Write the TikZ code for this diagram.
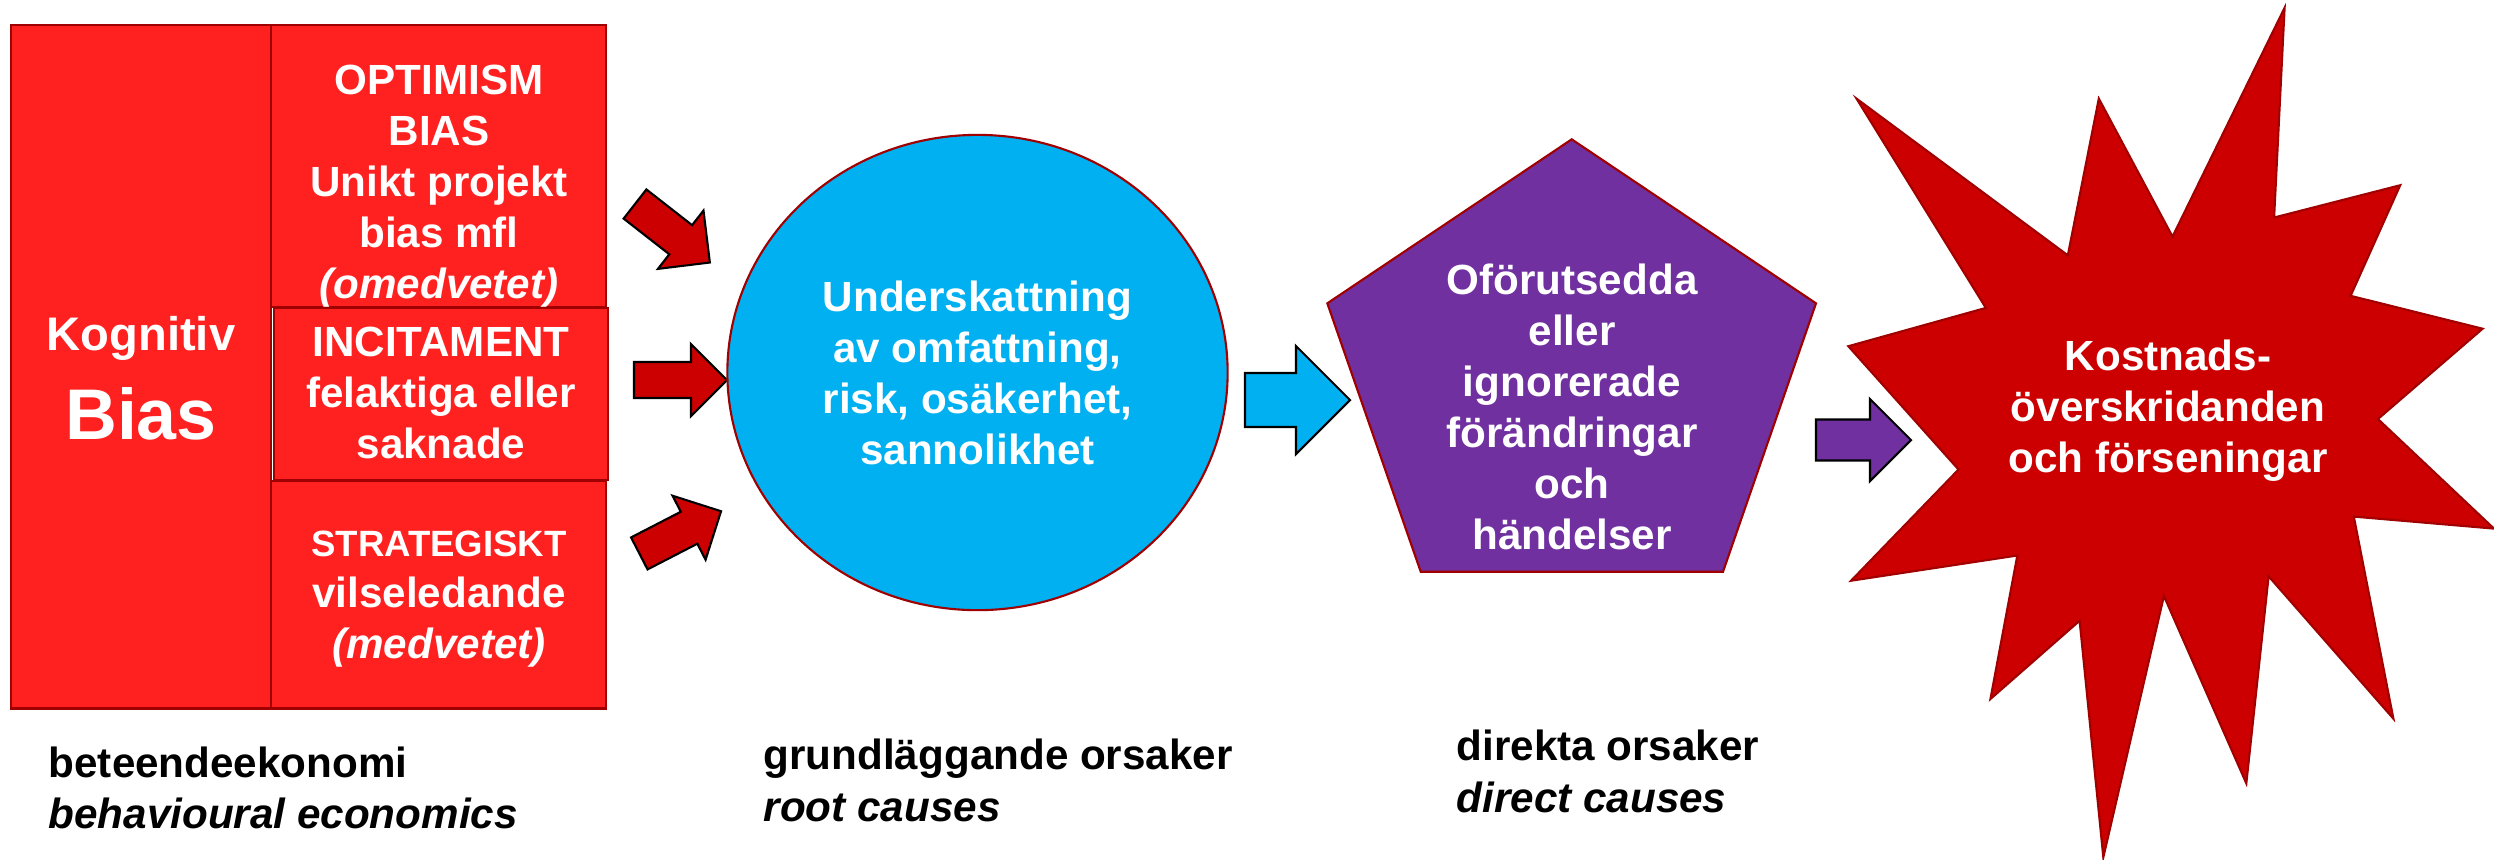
\documentclass[tikz,border=0pt]{standalone}
\usepackage{fontspec}
\setmainfont{Liberation Sans}
\usetikzlibrary{shapes.geometric}
\definecolor{boxred}{HTML}{FF2020}
\definecolor{edgered}{HTML}{A00000}
\definecolor{arrowred}{HTML}{CC0000}
\definecolor{skyblue}{HTML}{00B0F0}
\definecolor{eventpurple}{HTML}{7030A0}
\def\blockarrow[#1](#2)(#3:#4:#5){\draw[#1,shift={(#2)},rotate=#3] (0,-#5/2) -- ({#4-#5},-#5/2) -- ({#4-#5},-#5) -- (#4,0) -- ({#4-#5},#5) -- ({#4-#5},#5/2) -- (0,#5/2) -- cycle;}
\tikzset{
  redbox/.style={draw=edgered, fill=boxred, line width=0.6pt},
  txt/.style={text=white, font=\bfseries\fontsize{12}{14.5}\selectfont, align=center, inner sep=0pt},
  bottomtext/.style={font=\bfseries\fontsize{12}{14.6}\selectfont, align=left, inner sep=0pt, anchor=north west},
  redarrow/.style={draw=black, fill=arrowred, line width=0.6pt},
  bluearrow/.style={draw=black, fill=skyblue, line width=0.6pt},
  purplearrow/.style={draw=black, fill=eventpurple, line width=0.6pt}
}

\begin{document}
\begin{tikzpicture}[x=0.01cm,y=-0.01cm]
				\useasboundingbox (0,0) rectangle (2494,859);
				
				\draw[redbox] (10.7,25.3) rectangle (271.4,708.5);
				\draw[redbox] (271.4,25.3) rectangle (606,306.7);
				\draw[redbox] (271.4,480.8) rectangle (606,708.5);
				\draw[redbox] (273.9,307.7) rectangle (608.3,480);
				
				\node[txt, font=\bfseries\fontsize{13.4}{25.2}\selectfont] (kognitiv) at (141,378) {Kognitiv\\{\fontsize{20.4}{25.2}\selectfont Bias}};
				\node[txt] (optimism) at (439,186) {OPTIMISM\\BIAS\\Unikt projekt\\bias mfl\\\textit{(omedvetet)}};
				\node[txt] (incitament) at (441,393.4) {INCITAMENT\\felaktiga eller\\saknade};
				\node[txt] (strategiskt) at (439,599) {{\fontsize{10.4}{14.5}\selectfont STRATEGISKT}\\vilseledande\\\textit{(medvetet)}};
				
				\blockarrow[redarrow](635,204)(-38:95:37)
				\blockarrow[redarrow](634,380)(0:93:36)
				\blockarrow[redarrow](639.3,553.4)(27.3:92:36)
				
				\node[txt, ellipse, draw=edgered, fill=skyblue, line width=0.6pt, minimum width=5cm, minimum height=4.75cm] (underskattning) at (977.5,372.5) {Underskattning\\av omfattning,\\risk, osäkerhet,\\sannolikhet};
				
				\blockarrow[bluearrow](1245,400)(0:105:54)
				
				\draw[edgered, fill=eventpurple, line width=0.6pt] (1571.7,139.3) -- (1816,303.3) -- (1723,571.7) -- (1420.7,571.7) -- (1327.3,303.3) -- cycle;
				\node[txt] (forandringar) at (1572,407) {Oförutsedda\\eller\\ignorerade\\förändringar\\och\\händelser};
				
				\blockarrow[purplearrow](1816,440)(0:95:41)
				
				\draw[edgered, fill=arrowred, line width=0.6pt] (1856.5,98.6) -- (1985.8,307.9) -- (1848.3,346.2) -- (1958.5,469.5) -- (1851,580.7) -- (2017.3,555.5) -- (1990.4,699) -- (2079.6,620.7) -- (2103.3,857.3) -- (2163.9,596) -- (2246.3,783.4) -- (2268.6,576.3) -- (2393.4,718.7) -- (2353.8,516.6) -- (2494,528.6) -- (2377.9,419) -- (2482.6,328.7) -- (2350.6,295.8) -- (2400.2,185.2) -- (2274.1,217.5) -- (2284.6,7.7) -- (2172.5,236.6) -- (2098.8,98.6) -- (2067.8,255.3) -- cycle;
				\node[txt] (overskridanden) at (2168,411) {Kostnads-\\överskridanden\\och förseningar};
				
				\node[bottomtext] (beteende) at (48,746) {beteendeekonomi\\\textit{behavioural economics}};
				\node[bottomtext] (grund) at (763,738.4) {grundläggande orsaker\\\textit{root causes}};
				\node[bottomtext] (direkta) at (1456,729.4) {direkta orsaker\\\textit{direct causes}};
			\end{tikzpicture}
\end{document}
